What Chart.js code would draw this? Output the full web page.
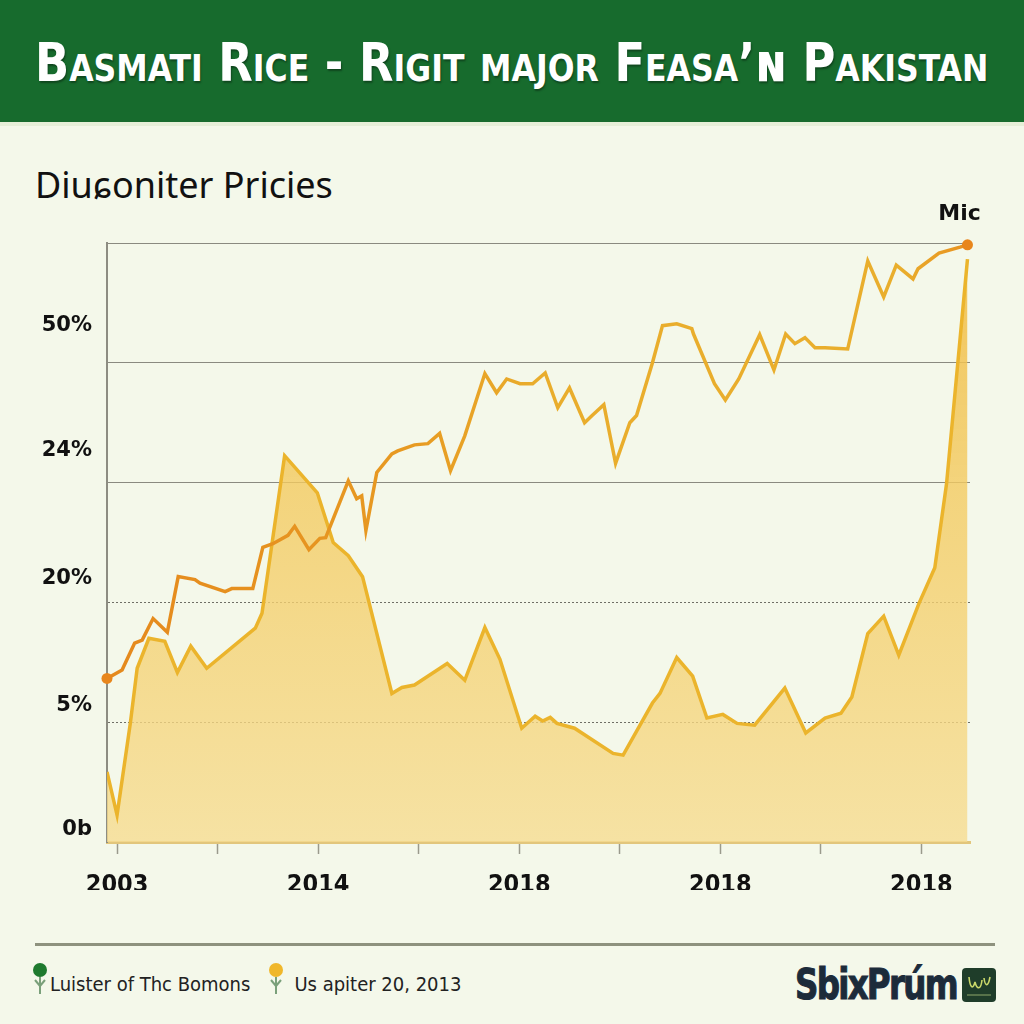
<!DOCTYPE html>
<html>
<head>
<meta charset="utf-8">
<script src="https://cdn.jsdelivr.net/npm/chart.js@4.4.1/dist/chart.umd.min.js"></script>
<style>
  html, body { margin: 0; padding: 0; }
  body { width: 1024px; height: 1024px; background: #f4f8ea; position: relative; overflow: hidden; font-family: "DejaVu Sans", sans-serif; }
  .header { position: absolute; left: 0; top: 0; width: 1024px; height: 122px; background: #176b2d; border-bottom: 4px solid #e6efd8; }
  .title { position: absolute; left: 35px; top: 36px; line-height: 54px; color: #fff; font-family: "DejaVu Sans Condensed", "DejaVu Sans", sans-serif; font-weight: bold; font-size: 54px; font-variant: small-caps; white-space: nowrap; text-shadow: 1px 2px 2px rgba(0,0,0,0.35); transform: scaleX(0.923); transform-origin: left top; }
  .subtitle { position: absolute; left: 35px; top: 160px; font-family: "Noto Sans", sans-serif; font-size: 36px; color: #111; }
  .chart-box { position: absolute; left: 0; top: 130px; width: 1024px; height: 760px; }
  .rule { position: absolute; left: 35px; top: 943px; width: 960px; height: 3px; background: #8e927e; }
  .legend { position: absolute; left: 32px; top: 962px; font-family: "DejaVu Sans Condensed", "DejaVu Sans", sans-serif; font-size: 20px; color: #222; display: flex; align-items: center; }
  .legend svg { margin-right: 2px; }
  .legend span { margin-right: 18px; padding-top: 10px; }
  .logo { position: absolute; left: 795px; top: 960px; font-family: "DejaVu Sans Condensed", "DejaVu Sans", sans-serif; font-weight: bold; font-size: 42px; color: #1c2b3a; letter-spacing: -2px; transform: scaleX(0.86); transform-origin: left top; -webkit-text-stroke: 1px #1c2b3a; }
  .logo-icon { position: absolute; left: 962px; top: 968px; width: 34px; height: 34px; background: #1f3d2a; border-radius: 4px; }
</style>
</head>
<body>
<div class="header"><div class="title">Basmati Rice - Rigit major Feasa’ɴ Pakistan</div></div>
<div class="subtitle">Diuɕoniter Pricies</div>
<div class="chart-box"><canvas id="riceChart"></canvas></div>
<div class="rule"></div>
<div class="legend">
  <svg width="16" height="34" viewBox="0 0 16 34"><circle cx="8" cy="8" r="7" fill="#1e7a2e"/><path d="M8 15 V32 M8 24 L3 18 M8 24 L13 18" stroke="#7aa07a" stroke-width="2" fill="none"/></svg>
  <span>Luister of Thc Bomons</span>
  <svg width="16" height="34" viewBox="0 0 16 34"><circle cx="8" cy="8" r="7" fill="#f0b72a"/><path d="M8 15 V32 M8 24 L3 18 M8 24 L13 18" stroke="#7aa07a" stroke-width="2" fill="none"/></svg>
  <span style="margin-left:8px">Us apiter 20, 2013</span>
</div>
<div class="logo">SbixPrúm</div>
<div class="logo-icon"><svg width="34" height="34" viewBox="0 0 34 34"><path d="M7 9 C8 20, 11 22, 13 14 C15 22, 19 22, 20 12 M22 10 C23 18, 26 20, 28 9" stroke="#c9d86a" stroke-width="1.6" fill="none"/><line x1="5" y1="27" x2="29" y2="27" stroke="#8fa86a" stroke-width="1"/></svg></div>

<script>
  const priceX = [-1.2, 0.6, 2.1, 3.0, 4.3, 6.0, 7.3, 9.3, 9.9, 12.9, 13.7, 16.2, 17.4, 18.6, 20.4, 21.2, 22.9, 24.2, 24.9, 27.6, 28.6, 29.2, 29.7, 31.0, 32.8, 33.5, 35.5, 37.1, 38.5, 39.8, 41.5, 43.9, 45.3, 46.5, 48.1, 49.6, 51.1, 52.6, 54.0, 55.8, 56.7, 58.1, 59.5, 61.2, 62.0, 63.9, 65.1, 66.8, 68.6, 68.8, 71.3, 72.6, 74.2, 76.7, 78.4, 79.8, 80.9, 82.1, 83.3, 84.5, 87.2, 89.6, 91.5, 93.0, 95.0, 95.6, 98.1, 100.6, 101.5];
  const priceY = [27.3, 28.7, 33.2, 33.7, 37.3, 35.0, 44.3, 43.8, 43.2, 41.8, 42.3, 42.3, 49.2, 49.8, 51.2, 52.7, 48.8, 50.7, 50.8, 60.3, 57.3, 57.8, 52.0, 61.7, 64.8, 65.3, 66.3, 66.5, 68.2, 62.0, 67.8, 78.2, 75.0, 77.3, 76.5, 76.5, 78.3, 72.5, 75.8, 70.0, 71.2, 73.0, 63.2, 70.0, 71.2, 80.0, 86.2, 86.5, 85.7, 84.8, 76.5, 73.8, 77.3, 84.7, 78.8, 84.8, 83.2, 84.2, 82.5, 82.5, 82.3, 97.0, 91.0, 96.3, 94.0, 95.7, 98.3, 99.3, 99.7];

  const volumeX = [-1.2, 0, 1.6, 2.4, 3.8, 5.7, 7.2, 8.8, 10.7, 16.5, 17.3, 20.0, 23.9, 25.8, 27.6, 29.3, 32.8, 34.0, 35.5, 39.4, 41.5, 43.9, 45.7, 48.3, 49.9, 50.8, 51.7, 52.5, 54.6, 59.2, 60.4, 63.9, 64.8, 66.8, 68.7, 70.4, 72.3, 74.0, 76.1, 79.7, 82.2, 84.5, 86.4, 87.7, 89.6, 91.5, 93.3, 95.7, 97.6, 99.0, 101.5];
  const volumeY = [11.7, 4.5, 20.0, 29.0, 34.0, 33.5, 28.3, 32.7, 29.0, 35.7, 38.2, 64.5, 58.3, 50.0, 47.8, 44.3, 24.8, 25.8, 26.2, 29.8, 27.0, 35.8, 30.5, 19.0, 21.0, 20.2, 20.8, 19.8, 19.0, 14.8, 14.5, 23.2, 24.8, 30.8, 27.7, 20.7, 21.3, 19.8, 19.5, 25.7, 18.2, 20.7, 21.5, 24.2, 34.8, 37.7, 31.2, 39.8, 45.8, 59.8, 97.3];

  const xTickValues = [0, 12, 24, 36, 48, 60, 72, 84, 96];
  const xTickLabels = ['2003', '', '2014', '', '2018', '', '2018', '', '2018'];
  const gridValues = [0, 20, 40, 60, 80, 100];
  const dottedGrid = [20, 40];
  const yLabelValues = [2, 22.8, 44, 65.3, 86.2];
  const yLabelText = ['0b', '5%', '20%', '24%', '50%'];
  const endLabel = 'Mic';

  const toPoints = (xs, ys) => xs.map((x, i) => ({ x: x, y: ys[i] }));

  function lineGradient(context) {
    const area = context.chart.chartArea;
    if (!area) return '#e79a22';
    const g = context.chart.ctx.createLinearGradient(area.left, 0, area.right, 0);
    g.addColorStop(0, '#e5891d');
    g.addColorStop(0.35, '#e79a22');
    g.addColorStop(0.5, '#e9ad2c');
    g.addColorStop(0.92, '#e9ae2d');
    g.addColorStop(1, '#e8901f');
    return g;
  }

  function fillGradient(context) {
    const area = context.chart.chartArea;
    if (!area) return 'rgba(244, 207, 110, 0.7)';
    const g = context.chart.ctx.createLinearGradient(0, area.top, 0, area.bottom);
    g.addColorStop(0, 'rgba(240, 188, 66, 0.88)');
    g.addColorStop(0.4, 'rgba(243, 202, 96, 0.8)');
    g.addColorStop(1, 'rgba(246, 220, 145, 0.8)');
    return g;
  }

  const endLabelPlugin = {
    id: 'endLabel',
    afterDatasetsDraw(chart) {
      const meta = chart.getDatasetMeta(0);
      const last = meta.data[meta.data.length - 1];
      const ctx = chart.ctx;
      ctx.save();
      ctx.font = 'bold 22px "DejaVu Sans", sans-serif';
      ctx.fillStyle = '#111';
      ctx.textAlign = 'center';
      ctx.textBaseline = 'middle';
      ctx.fillText(endLabel, last.x - 8, last.y - 31);
      ctx.restore();
    }
  };

  new Chart(document.getElementById('riceChart'), {
    type: 'line',
    data: {
      datasets: [
        {
          label: 'Price',
          data: toPoints(priceX, priceY),
          borderColor: lineGradient,
          borderWidth: 3.5,
          fill: false,
          tension: 0,
          order: 0,
          clip: false,
          pointRadius: ctx => (ctx.dataIndex === 0 || ctx.dataIndex === priceX.length - 1) ? 5.5 : 0,
          pointBackgroundColor: '#e8861c',
          pointBorderColor: '#e8861c',
          pointBorderWidth: 0
        },
        {
          label: 'Volume',
          data: toPoints(volumeX, volumeY),
          borderColor: '#ebb42c',
          borderWidth: 3.5,
          backgroundColor: fillGradient,
          fill: 'origin',
          tension: 0,
          order: 1,
          pointRadius: 0
        }
      ]
    },
    options: {
      responsive: true,
      maintainAspectRatio: false,
      animation: false,
      layout: { padding: { top: 113, right: 54, left: 0, bottom: 0 } },
      plugins: {
        legend: { display: false },
        tooltip: { enabled: false }
      },
      scales: {
        x: {
          type: 'linear',
          min: -1.2,
          max: 101.8,
          afterBuildTicks: scale => { scale.ticks = xTickValues.map(v => ({ value: v })); },
          afterFit: scale => { scale.height = 48; },
          ticks: {
            autoSkip: false,
            maxRotation: 0,
            padding: 16,
            color: '#111',
            font: { family: '"DejaVu Sans Condensed", "DejaVu Sans", sans-serif', weight: 'bold', size: 25 },
            callback: (value, i) => xTickLabels[i]
          },
          grid: { drawOnChartArea: false, drawTicks: true, tickLength: 12, tickColor: '#9a9a8c', tickWidth: 1.5 },
          border: { color: '#e2c67c', width: 3 }
        },
        y: {
          min: 0,
          max: 100,
          afterBuildTicks: scale => {
            scale.ticks = gridValues.concat(yLabelValues).sort((a, b) => a - b).map(v => ({ value: v }));
          },
          afterFit: scale => { scale.width = 107; },
          ticks: {
            autoSkip: false,
            padding: 15,
            color: '#111',
            font: { family: '"DejaVu Sans", sans-serif', weight: 'bold', size: 21 },
            callback: value => {
              const i = yLabelValues.indexOf(value);
              return i >= 0 ? yLabelText[i] : '';
            }
          },
          grid: {
            drawTicks: false,
            lineWidth: 1,
            color: ctx => {
              const v = ctx.tick ? ctx.tick.value : null;
              if (v === 0 || gridValues.indexOf(v) < 0) return 'rgba(0,0,0,0)';
              return dottedGrid.indexOf(v) >= 0 ? '#6f6f66' : '#8a8a80';
            }
          },
          border: {
            color: '#8d8d82',
            width: 2,
            dash: ctx => (ctx.tick && dottedGrid.indexOf(ctx.tick.value) >= 0) ? [2, 2] : []
          }
        }
      }
    },
    plugins: [endLabelPlugin]
  });
</script>
</body>
</html>
